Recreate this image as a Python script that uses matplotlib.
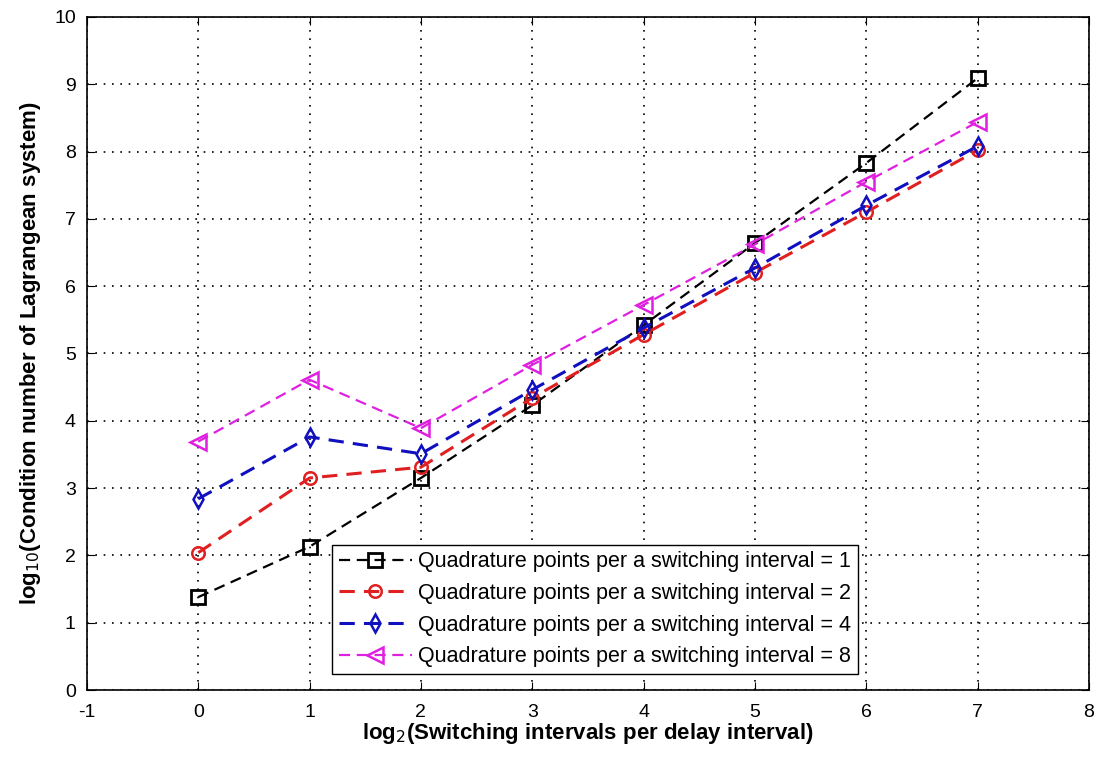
import numpy as np
import matplotlib.pyplot as plt

plt.rcParams['font.family'] = ['Liberation Sans', 'DejaVu Sans']
plt.rcParams['axes.unicode_minus'] = False

# Datos
x = [0, 1, 2, 3, 4, 5, 6, 7]
q1 = [1.38, 2.13, 3.15, 4.23, 5.42, 6.64, 7.83, 9.09]
q2 = [2.04, 3.15, 3.31, 4.34, 5.28, 6.20, 7.10, 8.02]
q4 = [2.84, 3.76, 3.51, 4.46, 5.38, 6.27, 7.20, 8.08]
q8 = [3.69, 4.61, 3.89, 4.83, 5.72, 6.62, 7.55, 8.44]
labels = ['Quadrature points per a switching interval = 1',
          'Quadrature points per a switching interval = 2',
          'Quadrature points per a switching interval = 4',
          'Quadrature points per a switching interval = 8']

fig = plt.figure(figsize=(11, 7.58), dpi=100)
ax = fig.add_axes([0.079, 0.0897, 0.911, 0.888])

dash = (5, 3)
ax.plot(x, q1, color='black', linestyle='--', dashes=dash, marker='s', markersize=10,
        markerfacecolor='none', markeredgewidth=2, linewidth=1.6, label=labels[0])
ax.plot(x, q2, color='#e02020', linestyle='--', dashes=dash, marker='o', markersize=9,
        markerfacecolor='none', markeredgewidth=1.8, linewidth=2.2, label=labels[1])
ax.plot(x, q4, color='#1010c0', linestyle='--', dashes=dash, marker='d', markersize=9,
        markerfacecolor='none', markeredgewidth=1.8, linewidth=2.2, label=labels[2])
ax.plot(x, q8, color='#e020e0', linestyle='--', dashes=dash, marker='<', markersize=11,
        markerfacecolor='none', markeredgewidth=1.8, linewidth=1.6, label=labels[3])

ax.set_xlim(-1, 8)
ax.set_ylim(0, 10)
ax.set_xticks(np.arange(-1, 9))
ax.set_yticks(np.arange(0, 11))
ax.tick_params(direction='in', top=True, right=True, labelsize=14, length=6)
ax.tick_params(axis='x', pad=10)
ax.tick_params(axis='y', pad=8)
ax.grid(True, linestyle=(0, (1, 4)), color='black', linewidth=1.2)
for s in ax.spines.values():
    s.set_linewidth(1.2)

ax.set_xlabel(r'log$_2$(Switching intervals per delay interval)', fontsize=16,
              fontweight='bold', labelpad=0)
ax.set_ylabel(r'log$_{10}$(Condition number of Lagrangean system)', fontsize=16,
              fontweight='bold', labelpad=8)

leg = ax.legend(loc='lower left', bbox_to_anchor=(0.234, 0.008), fontsize=15.5,
                fancybox=False, framealpha=1, edgecolor='black',
                borderpad=0.3, labelspacing=0.5, handlelength=3.4,
                handletextpad=0.3)
leg.get_frame().set_linewidth(1)

plt.savefig('out.png', dpi=100)
plt.close()
